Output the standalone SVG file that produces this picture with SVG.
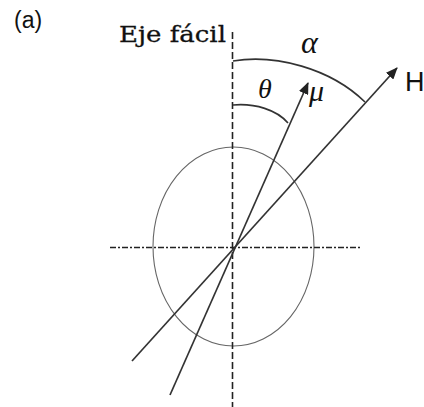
<svg xmlns="http://www.w3.org/2000/svg" width="424" height="407" viewBox="0 0 424 407">
<defs>
<style>
.ax{stroke:#222;stroke-width:1.6;fill:none}
.vec{stroke:#333;stroke-width:1.7;fill:none}
.arc{stroke:#333;stroke-width:1.6;fill:none}
.ell{stroke:#666;stroke-width:1.1;fill:none}
.sans{font-family:"Liberation Sans",Arial,sans-serif;fill:#111}
.greek{font-family:"Liberation Serif","Times New Roman",serif;font-style:italic;fill:#111}
</style>
<marker id="ah" viewBox="0 0 12 10" refX="11" refY="5" markerWidth="12" markerHeight="10" markerUnits="userSpaceOnUse" orient="auto">
<path d="M0,0 L12,5 L0,10 Z" fill="#222"/>
</marker>
</defs>
<rect width="424" height="407" fill="#fff"/>
<text class="sans" x="14" y="28" font-size="23">(a)</text>
<g id="ellipse"><ellipse class="ell" cx="233.5" cy="246.5" rx="80.5" ry="99.5"/></g>
<g id="axes">
<line class="ax" x1="232.5" y1="32" x2="232.5" y2="407" stroke-dasharray="7 3"/>
<line class="ax" x1="110" y1="247.5" x2="360" y2="247.5" stroke-dasharray="6 2 2 2" stroke-width="1.3"/>
</g>
<g id="connectors">
<line class="vec" x1="132" y1="361" x2="397" y2="68" marker-end="url(#ah)"/>
<line class="vec" x1="170" y1="395" x2="308" y2="83" marker-end="url(#ah)"/>
<path class="arc" d="M233,61 C275,54 330,68 365,102"/>
<path class="arc" d="M233,105 C255,103 277,110 288,123"/>
</g>
<g id="label-eje"><text x="119" y="42" font-family="DejaVu Serif,Liberation Serif,serif" font-size="23" textLength="107" lengthAdjust="spacingAndGlyphs" fill="#111" stroke="#111" stroke-width="0.3">Eje fácil</text></g>
<g id="label-alpha"><text class="greek" x="301" y="53" font-size="32">α</text></g>
<g id="label-theta"><text class="greek" x="258" y="98" font-size="28">θ</text></g>
<g id="label-mu"><text class="greek" x="309" y="101" font-size="30">μ</text></g>
<g id="label-H"><text class="sans" x="405" y="91" font-size="27">H</text></g>
</svg>
